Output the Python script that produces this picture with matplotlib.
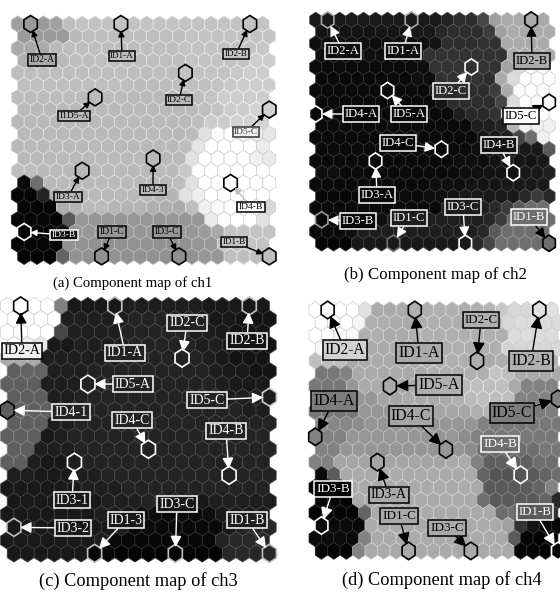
import matplotlib
matplotlib.use('Agg')
from matplotlib import pyplot as plt
from matplotlib.collections import PolyCollection
from matplotlib.transforms import Affine2D

plt.rcParams['font.family'] = ['Liberation Serif', 'DejaVu Serif']

W, H = 560, 593

# grey level of every map cell (rows top to bottom, 20 x 20)
ch1 = [
    [160,155,155,160,190,195,195,195,195,195,195,195,195,195,195,195,195,195,195,195],
    [155,155,155,155,185,190,190,190,190,190,190,190,190,195,195,195,195,195,195,195],
    [170,170,170,185,190,190,190,190,190,190,190,190,190,195,195,195,195,195,195,200],
    [175,170,175,185,190,190,190,190,190,190,190,190,190,195,195,195,195,195,205,205],
    [190,190,190,190,190,190,190,190,190,190,190,190,190,195,195,195,195,200,205,205],
    [190,190,190,190,190,190,190,190,190,188,188,188,190,190,190,195,200,205,205,205],
    [188,188,188,188,188,188,188,188,188,185,185,185,188,188,190,195,205,205,205,205],
    [185,185,185,185,185,185,185,185,185,185,185,185,185,188,190,195,205,205,210,210],
    [185,185,185,185,185,185,185,185,185,185,185,185,185,185,190,205,205,210,210,210],
    [185,185,185,185,185,185,185,185,185,185,185,185,185,188,225,252,255,240,235,230],
    [185,185,185,185,185,185,185,185,185,185,185,185,185,190,230,255,255,255,255,235],
    [185,185,185,185,185,185,185,185,185,185,185,185,185,225,255,255,255,255,240,235],
    [190,190,185,185,185,185,185,185,185,185,185,185,185,200,255,255,255,255,255,255],
    [ 10,110,185,185,185,185,185,185,185,185,185,185,190,225,255,255,255,255,255,255],
    [  5,  5, 35,175,185,185,185,185,185,185,185,180,180,225,240,255,255,255,255,255],
    [  5,  5,  5,175,180,185,185,180,180,180,175,175,170,190,240,250,255,255,255,215],
    [  5,  5,  5,  5, 90,150,150,150,150,150,150,150,150,150,150,235,255,255,255,225],
    [  5,  5,  5, 15,150,150,150,150,150,150,150,150,150,150,155,170,195,195,195,195],
    [  5,  5,  5,  5,145,145,145,145,145,145,145,145,145,145,150,150,195,195,195,195],
    [  5,  5,  5,100,145,145,145,145,145,145,145,145,145,145,150,150,190,190,190,190],
]

ch2 = [
    [ 25, 25, 25, 25, 25, 25, 25, 25, 25, 25, 25, 35, 45, 45, 70,160,170,170,170,170],
    [ 20, 20, 20, 20, 20, 22, 22, 22, 25, 25, 40, 45, 45, 45, 60,160,170,170,170,170],
    [ 15, 15, 15, 15, 15, 15, 15, 15, 15, 15, 20, 45, 45, 45, 50, 50,170,170,170,170],
    [ 15, 15, 15, 15, 15, 15, 15, 15, 15, 50, 50, 50, 50, 50, 50, 50,170,170,170,170],
    [ 10, 10, 10, 10, 10, 10, 10, 10, 10, 15, 50, 50, 50, 50, 50, 50,165,220,250,250],
    [ 10, 10, 10, 10, 10, 10, 10, 10, 15, 15, 50, 50, 50, 50, 45,170,220,252,252,252],
    [ 10, 10, 10, 10, 10, 10, 10, 10, 10, 10, 30, 45, 45, 45, 45, 60,170,250,252,252],
    [ 10, 10, 10, 10, 10, 10, 10, 10, 10, 10, 20, 45, 45, 45, 45, 70,220,252,252,252],
    [ 10, 10, 10, 10, 10, 10, 10, 10, 10, 10, 10, 10, 30, 40, 40, 50,200,250,252,252],
    [ 10, 10, 10, 10, 10, 10, 10, 10, 10, 10, 10, 10, 10, 30, 30, 35,180,240,240,240],
    [ 10, 10, 10, 10, 10, 10, 10, 10, 10, 10, 10, 10, 10, 10, 20, 25, 30, 70,110,240],
    [ 10, 10, 10, 10, 10, 10, 10, 10, 10, 10, 10, 10, 10, 15, 15, 20, 20, 25, 25, 90],
    [ 10, 10, 10, 10, 10, 10, 10, 10, 10, 10, 10, 10, 15, 15, 15, 20, 20, 20, 20, 25],
    [ 15, 15, 10, 10, 10, 10, 10, 10, 10, 10, 10, 10, 15, 15, 20, 20, 20, 25, 25, 30],
    [ 10, 10, 10, 10, 10, 10, 10, 10, 10, 10, 15, 15, 15, 20, 20, 20, 25, 25, 25, 25],
    [  8,  8,  8,  8,  8, 10, 10, 10, 10, 15, 15, 20, 25, 25, 25, 25, 25, 40, 60, 40],
    [ 10, 10, 10, 10, 10, 10, 10, 10, 10, 10, 10, 30, 30, 30, 30, 40, 60, 90,110,110],
    [ 10, 10, 10, 10, 10, 15, 30, 30, 30, 30, 30, 30, 30, 30, 40, 60,100,110,110,110],
    [ 10, 10, 10, 15, 30, 30, 30, 30, 30, 30, 30, 30, 30, 30, 40, 90,110,110,110,110],
    [  5,  5,  5, 25, 25, 25, 25, 25, 25, 25, 25, 25, 25, 40, 70,110,110,110,110,110],
]

ch3 = [
    [255,255,255,255,130, 25, 25, 25, 25, 30, 30, 30, 30, 30, 30, 25, 25, 25, 25, 25],
    [255,255,255,255, 30, 30, 30, 30, 30, 35, 35, 35, 35, 35, 30, 25, 25, 20, 20, 20],
    [255,255,255,255, 70, 30, 30, 30, 30, 35, 35, 35, 35, 35, 30, 30, 25, 20, 20, 20],
    [255,240,230, 25, 25, 30, 30, 30, 30, 35, 35, 35, 35, 35, 30, 30, 25, 20, 20, 20],
    [170,170,170, 30, 30, 30, 30, 30, 30, 35, 35, 35, 35, 35, 35, 30, 25, 20, 20, 20],
    [ 95,100,100, 30, 30, 30, 35, 35, 35, 35, 35, 35, 35, 35, 35, 30, 25, 25, 20, 20],
    [ 95, 95, 95, 30, 30, 30, 35, 35, 35, 35, 35, 35, 35, 35, 35, 35, 30, 25, 25, 25],
    [ 95, 95, 95, 30, 30, 35, 35, 35, 35, 35, 35, 35, 35, 35, 35, 35, 30, 30, 30, 30],
    [ 95, 95, 95, 95, 30, 35, 35, 35, 35, 35, 35, 35, 35, 35, 35, 35, 35, 35, 30, 30],
    [ 95, 95, 95, 30, 30, 35, 35, 35, 35, 35, 35, 35, 35, 35, 35, 35, 35, 35, 35, 35],
    [ 95, 95, 95, 25, 30, 35, 35, 35, 35, 35, 35, 35, 35, 35, 35, 35, 35, 35, 35, 35],
    [ 95, 95, 30, 30, 30, 35, 35, 35, 35, 35, 35, 35, 35, 35, 35, 35, 35, 35, 35, 35],
    [ 95, 95, 30, 25, 25, 30, 35, 35, 35, 35, 35, 35, 35, 35, 35, 35, 35, 35, 35, 35],
    [ 30, 30, 25, 25, 25, 30, 30, 35, 35, 35, 35, 35, 35, 35, 35, 35, 35, 35, 35, 35],
    [ 25, 25, 25, 25, 25, 25, 30, 30, 30, 35, 35, 35, 35, 35, 35, 35, 35, 35, 35, 35],
    [ 25, 25, 25, 25, 25, 25, 25, 30, 30, 30, 35, 30, 25, 25, 25, 30, 30, 30, 30, 30],
    [ 25, 25, 25, 25, 25, 25, 25, 30, 30, 25, 15, 12, 10, 10, 10, 15, 25, 30, 30, 30],
    [ 25, 25, 25, 25, 25, 25, 25, 25, 30, 10, 10, 10, 10, 10, 10, 10, 25, 35, 40, 40],
    [ 25, 25, 25, 25, 25, 25, 25, 30, 10,  8,  8,  8,  8,  8,  8,  8, 35, 40, 40, 40],
    [ 25, 25, 25, 25, 25, 25,  8,  8,  5,  5,  5,  5,  5,  5,  5,  5, 40, 40, 40, 40],
]

ch4 = [
    [255,255,255,255,225,170,170,170,175,175,175,175,175,175,180,200,215,215,225,225],
    [255,255,255,245,175,175,170,170,175,175,175,175,175,175,175,215,220,220,220,220],
    [255,255,250,250,175,175,170,170,175,175,175,175,175,175,175,175,220,220,220,220],
    [245,240,210,170,170,170,170,170,170,175,175,175,175,175,175,210,215,215,215,215],
    [190,190,190,170,170,170,170,170,170,175,175,175,175,175,170,175,175,175,175,175],
    [120,120,130,170,170,170,170,170,170,175,175,175,175,175,195,190,170,170,170,170],
    [120,120,120,150,170,170,170,170,170,170,175,175,185,190,190,190,170,130,130,130],
    [125,125,125,150,150,165,165,170,170,170,170,175,185,190,190,190,130,130,130,130],
    [120,120,120,120,150,150,150,150,165,165,165,165,165,175,180,130,125,125,125,125],
    [135,135,135,140,150,150,150,150,150,150,150,150,150,130,120,120,120,120,120,120],
    [130,130,130,150,150,150,150,150,150,150,150,150,140,130,120,120,120,120,120,120],
    [130,130,150,150,150,150,150,150,150,150,150,150,140,110,110,110,110,110,120,120],
    [130,130,165,165,165,165,165,165,165,165,165,170,170,130, 95, 95, 95, 95,110,110],
    [ 10, 90,170,170,170,170,170,170,170,170,170,170,170,100, 85, 85, 85, 90,100,110],
    [  0,  0, 20,170,170,170,170,170,170,170,170,170,170,170, 90, 90, 90, 90,100,130],
    [  5,  5,  5,170,170,170,170,170,170,170,170,170,170,110, 90, 90, 90, 90,100, 40],
    [  5,  5,  5,  5,100,170,170,170,170,170,170,170,170,170,170,110,110,100, 90, 50],
    [ 10, 10, 10, 10,170,170,170,170,170,170,170,170,170,170,170,160, 50, 20,  5,  5],
    [ 10, 10, 10, 10,130,170,170,170,170,170,170,170,170,170,170,170, 90,  5,  5,  5],
    [  5,  5,  5,130,170,170,170,170,170,170,170,170,170,170,170,170,  5,  5,  5,  5],
]

# marked cell of each label (row, col)
cells = {'ID2-A': (0, 1), 'ID1-A': (0, 8), 'ID2-B': (0, 18), 'ID2-C': (4, 13),
         'ID5-A': (6, 6), 'ID5-C': (7, 19), 'ID4-A': (8, 0), 'ID4-C': (11, 10),
         'ID3-A': (12, 5), 'ID4-B': (13, 16), 'ID3-B': (17, 0), 'ID1-C': (19, 6),
         'ID3-C': (19, 12), 'ID1-B': (19, 19)}

# key, shown text, label centre x, y (pixels of the image), font size, text, arrow and hexagon colour
labels_a = [
    ('ID2-A', 'ID2-A', 42, 60, 6.9, 'k', 'k', 'k'), ('ID1-A', 'ID1-A', 122, 56, 6.6, 'k', 'k', 'k'),
    ('ID2-B', 'ID2-B', 236, 54, 6.5, 'k', 'k', 'k'), ('ID2-C', 'ID2-C', 179, 100, 6.8, 'k', 'k', 'k'),
    ('ID5-A', 'I1D5-A', 74, 116, 6.8, 'k', 'k', 'k'), ('ID5-C', 'ID5-C', 246, 132, 6.8, '0.2', 'k', 'k'),
    ('ID4-C', 'ID4-3', 153, 190, 6.8, 'k', 'k', 'k'), ('ID3-A', 'ID3-A', 68, 197, 6.8, 'k', 'k', 'k'),
    ('ID4-B', 'ID4-B', 251, 207, 6.8, 'k', '0.75', 'k'), ('ID3-B', 'ID3-B', 64, 235, 6.8, 'w', 'w', 'w'),
    ('ID1-C', 'ID1-C', 112, 232, 6.9, 'k', 'k', 'k'), ('ID3-C', 'ID3-C', 167, 232, 6.9, 'k', 'k', 'k'),
    ('ID1-B', 'ID1-B', 234, 242, 6.6, 'k', 'k', 'k'),
]
labels_b = [
    ('ID2-A', 'ID2-A', 343, 51, 9.2, 'w', 'w', '0.65'), ('ID1-A', 'ID1-A', 403, 51, 9.2, 'w', 'w', '0.65'),
    ('ID2-B', 'ID2-B', 532, 61, 9.2, 'k', 'k', 'k'), ('ID2-C', 'ID2-C', 451, 91, 9.2, 'w', 'w', 'w'),
    ('ID5-C', 'ID5-C', 521, 116, 9.2, 'k', 'k', 'k'), ('ID4-A', 'ID4-A', 361, 114, 9.2, 'w', 'w', 'w'),
    ('ID5-A', 'ID5-A', 409, 114, 9.2, 'w', 'w', 'w'), ('ID4-C', 'ID4-C', 398, 143, 9.2, 'w', 'w', 'w'),
    ('ID4-B', 'ID4-B', 499, 145, 9.2, 'w', 'w', 'w'), ('ID3-A', 'ID3-A', 377, 195, 9.2, 'w', 'w', 'w'),
    ('ID3-B', 'ID3-B', 358, 221, 9.2, 'w', 'w', '0.6'), ('ID1-C', 'ID1-C', 409, 218, 9.2, 'w', 'w', '0.45'),
    ('ID3-C', 'ID3-C', 463, 207, 9.2, 'w', 'w', 'w'), ('ID1-B', 'ID1-B', 529, 217, 9.2, 'w', 'k', 'k'),
]
labels_c = [
    ('ID2-A', 'ID2-A', 22, 351, 10.2, 'k', 'k', 'k'), ('ID1-A', 'ID1-A', 125, 353, 10, 'w', 'w', '0.75'),
    ('ID2-C', 'ID2-C', 187, 323, 10, 'w', 'w', 'w'), ('ID2-B', 'ID2-B', 247, 341, 10, 'w', 'w', '0.75'),
    ('ID5-A', 'ID5-A', 133, 384, 10, 'w', 'w', 'w'), ('ID5-C', 'ID5-C', 207, 400, 10, 'w', 'w', '0.8'),
    ('ID4-A', 'ID4-1', 71, 412, 10, 'w', 'w', 'k'), ('ID4-C', 'ID4-C', 132, 420, 10, 'w', 'w', 'w'),
    ('ID4-B', 'ID4-B', 226, 431, 10, 'w', 'w', 'w'), ('ID3-A', 'ID3-1', 72, 500, 10, 'w', 'w', 'w'),
    ('ID3-B', 'ID3-2', 73, 528, 10, 'w', 'w', '0.75'), ('ID3-C', 'ID3-C', 177, 504, 10, 'w', 'w', '0.75'),
    ('ID1-C', 'ID1-3', 126, 520, 10, 'w', 'w', '0.75'), ('ID1-B', 'ID1-B', 247, 520, 10, 'w', 'w', '0.75'),
]
labels_d = [
    ('ID2-A', 'ID2-A', 345, 350, 11.2, 'k', 'k', 'k'), ('ID1-A', 'ID1-A', 419, 353, 11.4, 'k', 'k', 'k'),
    ('ID2-C', 'ID2-C', 481, 320, 9.4, 'k', 'k', 'k'), ('ID2-B', 'ID2-B', 531, 361, 11.2, 'k', 'k', 'k'),
    ('ID5-A', 'ID5-A', 439, 385, 11.4, 'k', 'k', 'k'), ('ID4-A', 'ID4-A', 334, 401, 11.4, 'k', 'k', 'k'),
    ('ID4-C', 'ID4-C', 411, 416, 11.4, 'k', 'k', 'k'), ('ID5-C', 'ID5-C', 512, 413, 11.4, 'k', 'k', 'k'),
    ('ID4-B', 'ID4-B', 500, 444, 9.5, 'w', 'w', 'w'), ('ID3-A', 'ID3-A', 389, 495, 10, 'k', 'k', 'k'),
    ('ID3-B', 'ID3-B', 333, 489, 9.5, 'w', 'w', 'w'), ('ID1-C', 'ID1-C', 399, 516, 9.5, 'k', 'k', 'k'),
    ('ID3-C', 'ID3-C', 447, 528, 9.5, 'k', 'k', 'k'), ('ID1-B', 'ID1-B', 535, 512, 9.3, 'w', 'w', 'w'),
]

captions = [('(a) Component map of ch1', 133, 283, 10.6),
            ('(b) Component map of ch2', 435, 275, 12.2),
            ('(c) Component map of ch3', 138, 581, 13.2),
            ('(d) Component map of ch4', 442, 580, 13.2)]


def hex_at(row, col, k=1.0):
    x = col + 0.5 * (row % 2)
    return [(x, row - 2 / 3 * k), (x + 0.5 * k, row - 1 / 3 * k), (x + 0.5 * k, row + 1 / 3 * k),
            (x, row + 2 / 3 * k), (x - 0.5 * k, row + 1 / 3 * k), (x - 0.5 * k, row - 1 / 3 * k)]


def draw_map(fig, values, labels, x0, dx, y0, dy, arrow, moved=None):
    moved = moved or {}
    # axes over the whole image so that data units land on the panel's pixels
    ax = fig.add_axes([0, 0, 1, 1])
    ax.set_xlim((0 - x0) / dx, (W - x0) / dx)
    ax.set_ylim((H - y0) / dy, (0 - y0) / dy)
    ax.axis('off')
    ax.patch.set_visible(False)

    polys, greys, edges = [], [], []
    for r, row in enumerate(values):
        for c, v in enumerate(row):
            polys.append(hex_at(r, c))
            greys.append(str(v / 255))
            # thin outline a little lighter than the cell, grey on the white cells
            edges.append(str((v + 40 if v < 215 else 205) / 255))
    ax.add_collection(PolyCollection(polys, facecolors=greys, edgecolors=edges, linewidths=0.5))

    to_pixels = Affine2D().scale(1, -1).translate(0, H)
    for key, text, px, py, size, color, arrow_color, hex_color in labels:
        r, c = moved.get(key, cells[key])
        # the marked hexagon keeps the colour of its cell
        ax.add_patch(plt.Polygon(hex_at(r, c, 1.04), closed=True, fc=str(values[r][c] / 255),
                                 ec=hex_color, lw=1.2, zorder=3))
        # box takes the grey of the cell below it
        lr = min(max(round((py - y0) / dy), 0), 19)
        lc = min(max(round((px - x0) / dx - 0.5 * (lr % 2)), 0), 19)
        ax.annotate(text, xy=(c + 0.5 * (r % 2), r), xytext=(px, py), textcoords=to_pixels,
                    ha='center', va='center', fontsize=size, color=color, zorder=5,
                    bbox=dict(boxstyle='square,pad=0.14', fc=str(values[lr][lc] / 255), ec=color, lw=1.1),
                    arrowprops=dict(arrowstyle='-|>,head_length=0.6,head_width=0.3', color=arrow_color, lw=1,
                                    mutation_scale=arrow, shrinkA=0, shrinkB=4.5))


fig = plt.figure(figsize=(W / 100, H / 100), dpi=100)

draw_map(fig, ch1, labels_a, 17.7, 12.9, 24, 12.23, 6)
draw_map(fig, ch2, labels_b, 315.7, 11.97, 20, 11.75, 10)
draw_map(fig, ch3, labels_c, 7.2, 13.45, 306, 13.02, 11)
draw_map(fig, ch4, labels_d, 315.2, 12.45, 310, 12.68, 12,
         moved={'ID4-A': (10, 0), 'ID1-C': (19, 7)})

for text, px, py, size in captions:
    fig.text(px / W, 1 - py / H, text, ha='center', va='center', fontsize=size)

fig.savefig('out.png', dpi=100)
